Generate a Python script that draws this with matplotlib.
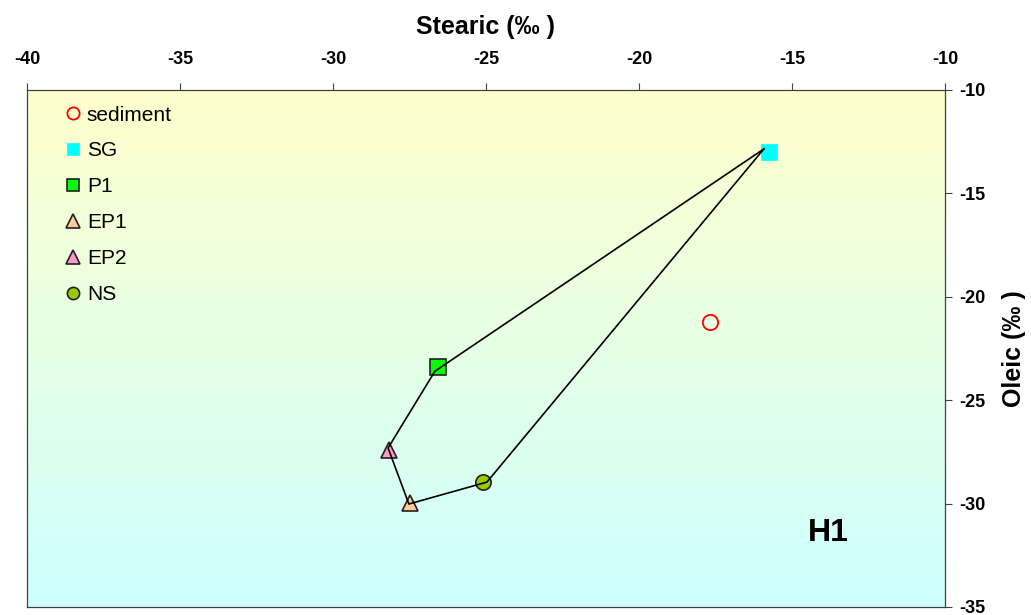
import numpy as np
import matplotlib
matplotlib.use("Agg")
import matplotlib.pyplot as plt
from matplotlib.colors import LinearSegmentedColormap

# ---- data ----
labels = ["sediment", "SG", "P1", "EP1", "EP2", "NS"]
stearic = [-17.68, -15.75, -26.57, -27.48, -28.17, -25.10]
oleic = [-21.22, -13.00, -23.39, -29.97, -27.41, -28.96]
# polygon path connecting groups (SG -> P1 -> EP2 -> EP1 -> NS -> SG)
path_x = [-15.92, -26.67, -28.20, -27.52, -24.97, -15.92]
path_y = [-12.85, -23.60, -27.31, -30.02, -28.96, -12.85]
xticks = [-40, -35, -30, -25, -20, -15, -10]
yticks = [-10, -15, -20, -25, -30, -35]

styles = {
    "sediment": dict(marker="o", mfc="none", mec="#ff0000", ms=11, mew=1.3),
    "SG": dict(marker="s", mfc="#00ffff", mec="#00ffff", ms=11.5, mew=0.5),
    "P1": dict(marker="s", mfc="#00ff00", mec="#202020", ms=11, mew=1.2),
    "EP1": dict(marker="^", mfc="#ffcc99", mec="#202020", ms=12, mew=1.2),
    "EP2": dict(marker="^", mfc="#ff99cc", mec="#202020", ms=12, mew=1.2),
    "NS": dict(marker="o", mfc="#99cc00", mec="#202020", ms=11, mew=1.2),
}

plt.rcParams["font.family"] = ["Liberation Sans", "DejaVu Sans"]
plt.rcParams["axes.unicode_minus"] = False

fig = plt.figure(figsize=(10.31, 6.15), dpi=100)
ax = fig.add_axes([27 / 1031, 1 - 607 / 615, (945 - 27) / 1031, (607 - 90) / 615])

# gradient background
cmap = LinearSegmentedColormap.from_list("bg", ["#ffffcc", "#ccffff"])
grad = np.linspace(0, 1, 256).reshape(-1, 1)
ax.imshow(grad, aspect="auto", cmap=cmap, extent=[-40, -10, -35, -10],
          origin="upper", zorder=0)

ax.plot(path_x, path_y, color="black", lw=1.2, zorder=3)
for lab, x, y in zip(labels, stearic, oleic):
    ax.plot([x], [y], linestyle="none", label=lab, zorder=2, **styles[lab])

ax.set_xlim(-40, -10)
ax.set_ylim(-35, -10)
ax.set_xticks(xticks)
ax.set_yticks(yticks)
ax.xaxis.tick_top()
ax.xaxis.set_label_position("top")
ax.yaxis.tick_right()
ax.yaxis.set_label_position("right")
ax.tick_params(axis="both", direction="out", length=5, width=0.8, color="#404040",
               labelsize=13)
for t in ax.get_xticklabels() + ax.get_yticklabels():
    t.set_fontweight("bold")
ax.tick_params(axis="x", pad=11)
ax.tick_params(axis="y", pad=5)

for s in ax.spines.values():
    s.set_color("#404040")
    s.set_linewidth(0.9)

ax.set_xlabel("Stearic (‰ )", fontsize=18, fontweight="bold", labelpad=12)
ax.set_ylabel("Oleic (‰ )", fontsize=18, fontweight="bold", rotation=90, labelpad=12)

ax.text(-13.82, -31.4, "H1", fontsize=23, fontweight="bold", ha="center", va="center")

leg = ax.legend(loc="upper left", frameon=False, fontsize=15, markerscale=0.8,
                handlelength=0.6, handletextpad=0.37, labelspacing=0.81,
                borderpad=0, borderaxespad=0, bbox_to_anchor=(0.0432, 0.970))

fig.savefig("out.png", dpi=100)
